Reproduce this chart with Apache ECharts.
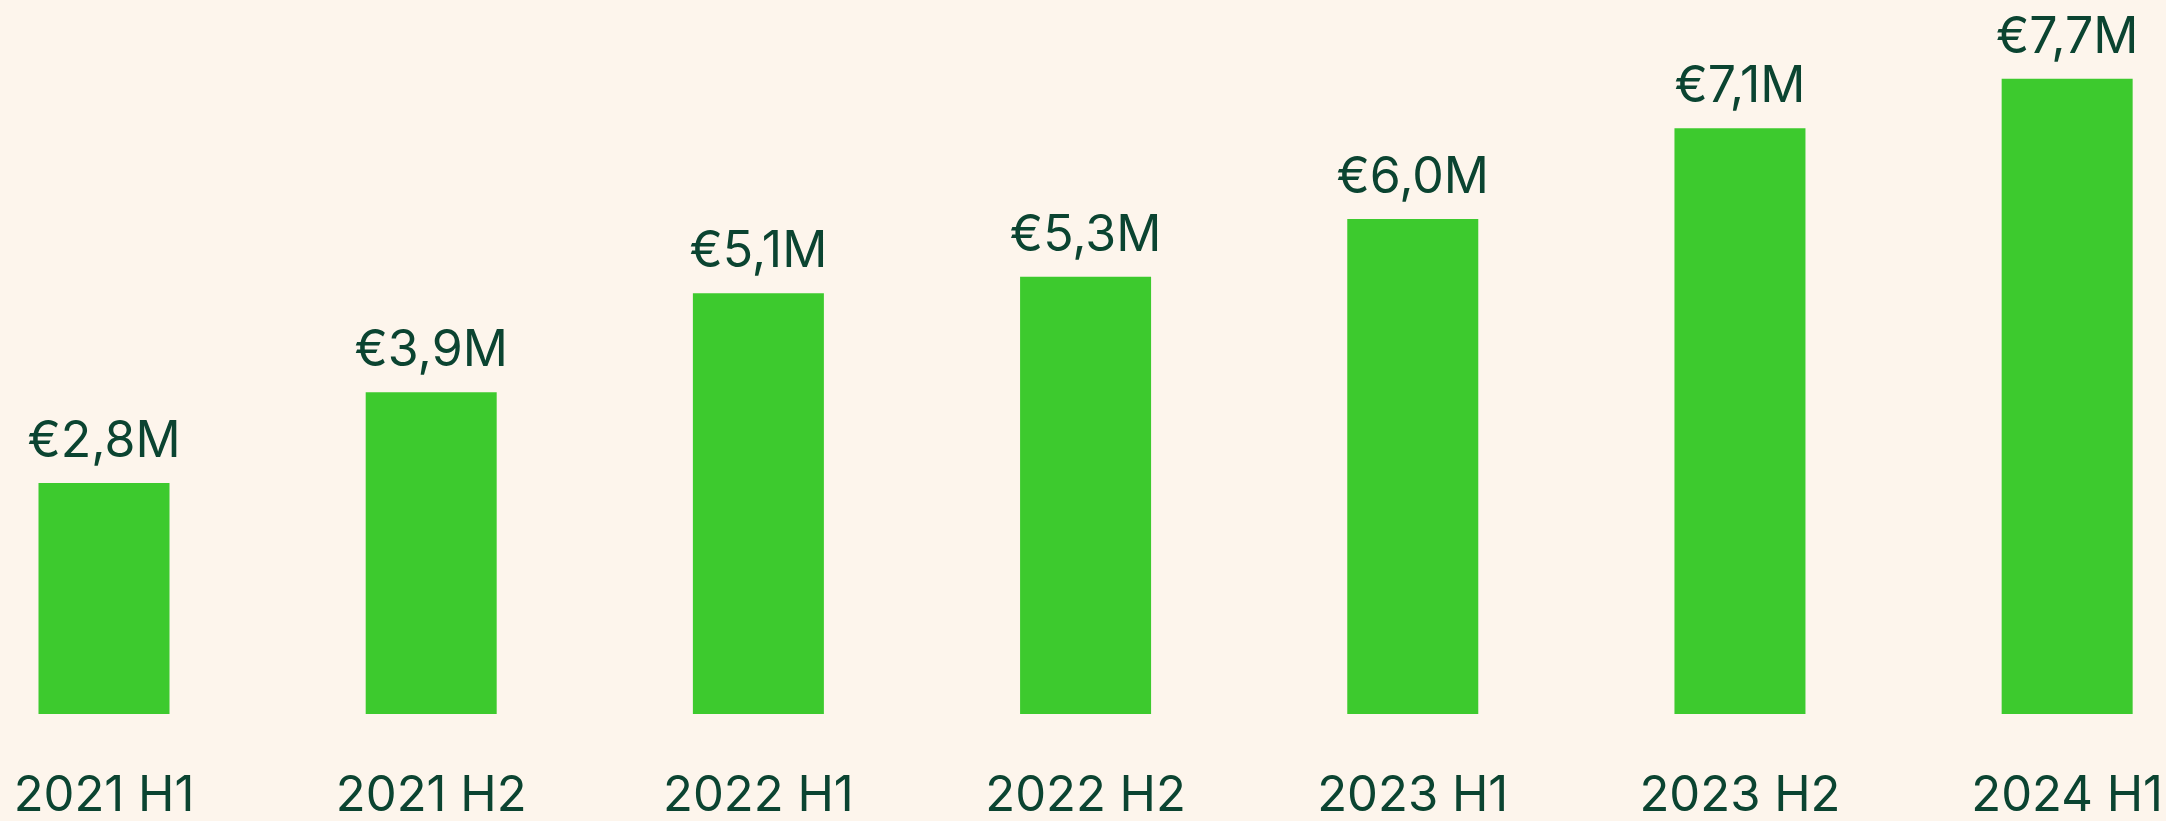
<!DOCTYPE html>
<html>
<head>
<meta charset="utf-8">
<style>
  html, body { margin: 0; padding: 0; background: #fdf5ec; }
  #chart { width: 2166px; height: 821px; }
</style>
<script src="https://cdn.jsdelivr.net/npm/echarts@6/dist/echarts.min.js"></script>
</head>
<body>
<div id="chart"></div>
<script>
var periods = ['2021 H1', '2021 H2', '2022 H1', '2022 H2', '2023 H1', '2023 H2', '2024 H1']
var revenue = [2.8, 3.9, 5.1, 5.3, 6.0, 7.1, 7.7]

var textColor = '#0b4431'
var barColor = '#3dca2e'

var chart = echarts.init(document.getElementById('chart'))
chart.setOption({
  backgroundColor: '#fdf5ec',
  textStyle: { fontFamily: 'Inter' },
  grid: { left: 104, right: 98, top: 0, bottom: 107 },
  xAxis: {
    type: 'category',
    data: periods,
    boundaryGap: false,
    axisLine: { show: false },
    axisTick: { show: false },
    axisLabel: {
      color: textColor,
      fontSize: 49,
      fontFamily: 'Inter',
      margin: 58,
      interval: 0
    }
  },
  yAxis: {
    type: 'value',
    min: 0,
    max: 8.655,
    show: false,
    splitLine: { show: false }
  },
  series: [
    {
      type: 'bar',
      data: revenue,
      barWidth: 131,
      clip: false,
      itemStyle: { color: barColor },
      label: {
        show: true,
        position: 'top',
        distance: 16,
        color: textColor,
        fontSize: 50,
        fontFamily: 'Inter',
        formatter: function (p) {
          return '€' + p.value.toFixed(1).replace('.', ',') + 'M'
        }
      }
    }
  ]
})
</script>
</body>
</html>
